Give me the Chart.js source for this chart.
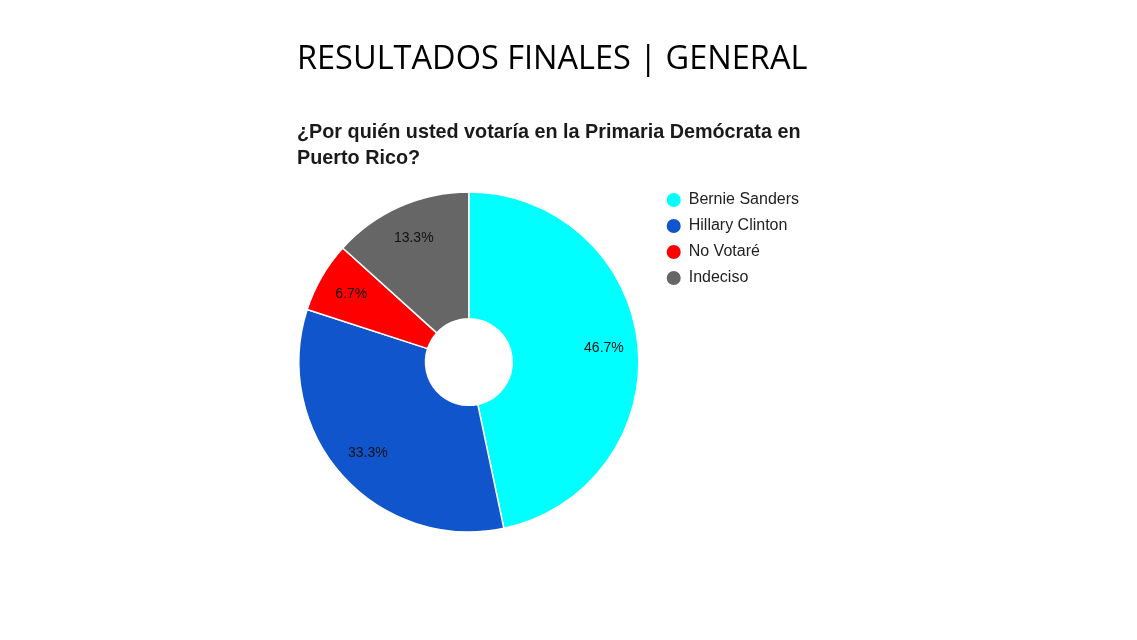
<!DOCTYPE html>
<html>
<head>
<meta charset="utf-8">
<script src="https://cdn.jsdelivr.net/npm/chart.js@4"></script>
<style>
  html, body { margin: 0; padding: 0; background: #fff; }
  #wrap { position: relative; width: 1137px; height: 640px; overflow: hidden; }
  #pollChart { position: absolute; left: 0; top: 0; }
  .title { position: absolute; left: 297px; top: 41px; font-family: "Open Sans", sans-serif; font-size: 32.5px; line-height: 32.5px; color: #000; white-space: nowrap; }
  .question { position: absolute; left: 297px; top: 118px; font-family: "Liberation Sans", Arial, sans-serif; font-weight: bold; font-size: 19.8px; line-height: 26px; color: #1a1a1a; white-space: nowrap; }
</style>
</head>
<body>
<div id="wrap">
  <canvas id="pollChart" width="1137" height="640"></canvas>
  <div class="title">RESULTADOS FINALES | GENERAL</div>
  <div class="question">¿Por quién usted votaría en la Primaria Demócrata en<br>Puerto Rico?</div>
</div>
<script>
var candidates = ["Bernie Sanders", "Hillary Clinton", "No Votaré", "Indeciso"];
var percents = [46.7, 33.3, 6.7, 13.3];
var sliceColors = ["#00ffff", "#1155cc", "#ff0000", "#666666"];

// percent labels inside the slices
var sliceLabels = {
    id: "sliceLabels",
    afterDatasetsDraw(chart) {
        var ctx = chart.ctx;
        var meta = chart.getDatasetMeta(0);
        ctx.save();
        ctx.font = "14px 'Liberation Sans', Arial, sans-serif";
        ctx.fillStyle = "#111";
        ctx.textAlign = "center";
        ctx.textBaseline = "middle";
        meta.data.forEach(function (arc, i) {
            var p = arc.getProps(["x", "y", "startAngle", "endAngle", "innerRadius", "outerRadius"], true);
            var mid = (p.startAngle + p.endAngle) / 2;
            var r = p.innerRadius + 0.73 * (p.outerRadius - p.innerRadius);
            ctx.fillText(percents[i].toFixed(1) + "%", p.x + Math.cos(mid) * r, p.y + Math.sin(mid) * r);
        });
        ctx.restore();
    }
};

var ctx = document.getElementById("pollChart").getContext("2d");
var myChart = new Chart(ctx, {
    type: "doughnut",
    data: {
        labels: candidates,
        datasets: [
            {
                data: percents,
                backgroundColor: sliceColors,
                borderColor: "#ffffff",
                borderWidth: 1.5,
            },
        ],
    },
    options: {
        responsive: false,
        animation: false,
        radius: 170,
        cutout: "25.5%",
        layout: {
            padding: { left: 281, right: 328, top: 182, bottom: 98 }
        },
        plugins: {
            tooltip: { enabled: false },
            legend: {
                position: "right",
                align: "start",
                labels: {
                    usePointStyle: true,
                    pointStyle: "circle",
                    boxWidth: 14,
                    boxHeight: 11,
                    padding: 10,
                    color: "#222",
                    font: { family: "'Liberation Sans', Arial, sans-serif", size: 16 }
                }
            }
        }
    },
    plugins: [sliceLabels]
});
</script>
</body>
</html>
